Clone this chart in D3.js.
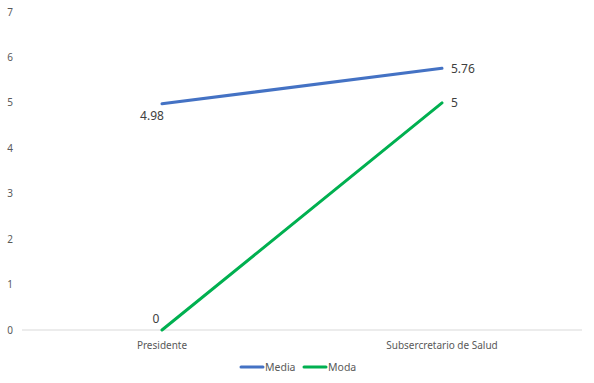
<!DOCTYPE html>
<html>
<head>
<meta charset="utf-8">
<script src="https://cdn.jsdelivr.net/npm/d3@7"></script>
<style>
  body { margin: 0; background: #fff; }
  text { font-family: "Noto Sans", "DejaVu Sans", sans-serif; }
</style>
</head>
<body>
<svg id="chart"></svg>
<script>
const categories = ["Presidente", "Subsercretario de Salud"];
const media = [4.98, 5.76];
const moda = [0, 5];
const yTicks = [0, 1, 2, 3, 4, 5, 6, 7];

const width = 594;
const height = 383;
const margin = { top: 12, right: 12, bottom: 53, left: 22 };

const series = [
  { name: "Media", values: media, color: "#4472C4" },
  { name: "Moda", values: moda, color: "#00B050" }
];

const xScale = d3.scaleBand(categories, [margin.left, width - margin.right]);
const yScale = d3.scaleLinear([0, 7], [height - margin.bottom, margin.top]);
const cx = c => xScale(c) + xScale.bandwidth() / 2;

const svg = d3.select("svg#chart").attr("width", width).attr("height", height);

// y tick labels (no gridlines)
svg.append("g")
  .selectAll("text")
  .data(yTicks)
  .join("text")
  .attr("x", 10)
  .attr("y", d => yScale(d))
  .attr("dy", "0.35em")
  .attr("text-anchor", "middle")
  .style("fill", "#595959")
  .style("font-size", "10px")
  .text(d => d);

// baseline
svg.append("line")
  .attr("x1", margin.left)
  .attr("x2", width - margin.right)
  .attr("y1", yScale(0))
  .attr("y2", yScale(0))
  .style("stroke", "#d9d9d9")
  .style("stroke-width", 1);

// category labels
svg.append("g")
  .selectAll("text")
  .data(categories)
  .join("text")
  .attr("x", d => cx(d))
  .attr("y", yScale(0) + 15)
  .attr("dy", "0.35em")
  .attr("text-anchor", "middle")
  .style("fill", "#595959")
  .style("font-size", "10px")
  .text(d => d);

const line = d3.line()
  .x((d, i) => cx(categories[i]))
  .y(d => yScale(d));

svg.append("g")
  .selectAll("path")
  .data(series)
  .join("path")
  .attr("d", d => line(d.values))
  .style("stroke", d => d.color)
  .style("stroke-width", 3)
  .style("stroke-linecap", "round")
  .style("fill", "none");

// data labels
const labelPos = [
  { s: 0, i: 0, dx: -10, dy: 12, anchor: "middle" },
  { s: 0, i: 1, dx: 9, dy: 0, anchor: "start" },
  { s: 1, i: 0, dx: -6, dy: -11, anchor: "middle" },
  { s: 1, i: 1, dx: 9, dy: 0, anchor: "start" }
];

svg.append("g")
  .selectAll("text")
  .data(labelPos)
  .join("text")
  .attr("x", d => cx(categories[d.i]) + d.dx)
  .attr("y", d => yScale(series[d.s].values[d.i]) + d.dy)
  .attr("dy", "0.35em")
  .attr("text-anchor", d => d.anchor)
  .style("fill", "#404040")
  .style("font-size", "12px")
  .text(d => series[d.s].values[d.i]);

// legend
const legend = svg.append("g").attr("transform", `translate(241, ${height - 16})`);
const item = legend.selectAll("g")
  .data(series)
  .join("g")
  .attr("transform", (d, i) => `translate(${i * 63}, 0)`);
item.append("line")
  .attr("x1", 0).attr("x2", 22)
  .style("stroke", d => d.color)
  .style("stroke-width", 3)
  .style("stroke-linecap", "round");
item.append("text")
  .attr("x", 24)
  .attr("dy", "0.35em")
  .style("fill", "#595959")
  .style("font-size", "10.5px")
  .text(d => d.name);
</script>
</body>
</html>
